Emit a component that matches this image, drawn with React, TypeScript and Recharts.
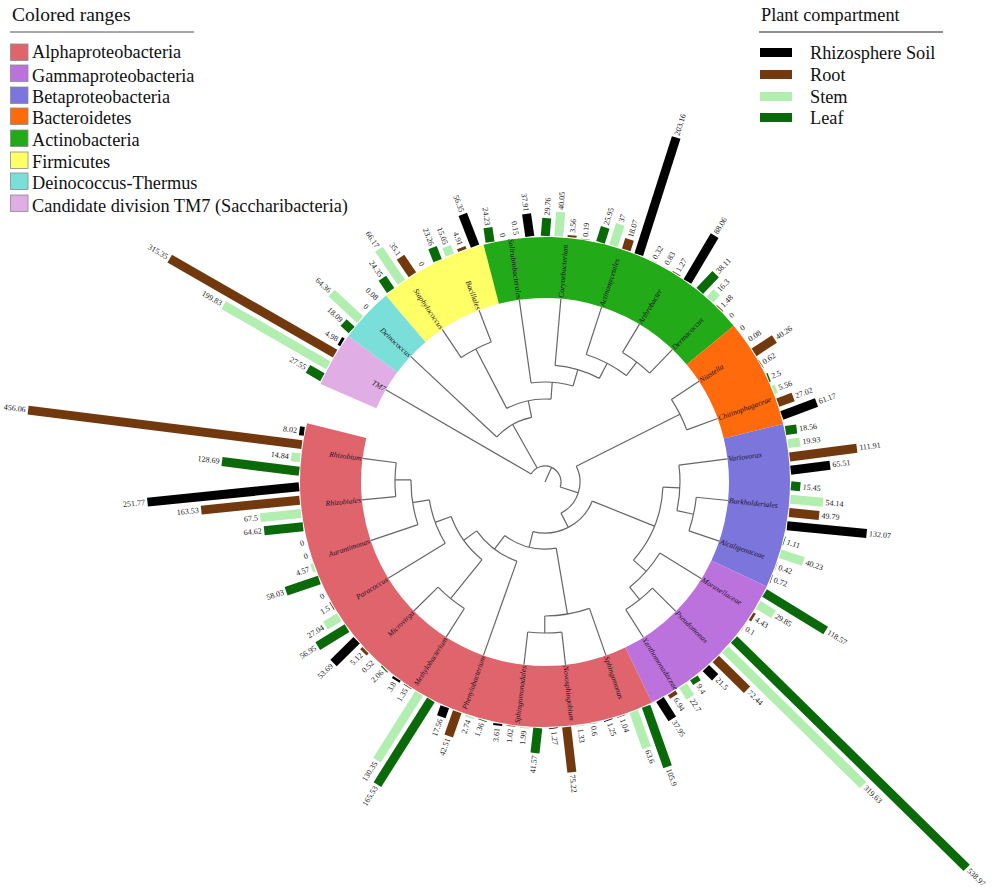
import React from 'react';
import {
  PieChart, Pie, RadialBarChart, RadialBar, PolarAngleAxis, PolarRadiusAxis,
  ScatterChart, Scatter, XAxis, YAxis,
} from 'recharts';

const W = 993;
const H = 887;
const CX = 545;
const CY = 482;
const START = 156.4;
const SLOTS_PER_GENUS = 4;
const GAP_SLOTS = 3;
const SERIF = '"Liberation Serif", serif';

const genera = ['TM7', 'Deinococcus', 'Staphylococcus', 'Bacillales', 'Solirubrobacterales', 'Corynebacterium', 'Actinomycetales', 'Arthrobacter', 'Dermacoccus', 'Niastella', 'Chitinophagaceae', 'Variovorax', 'Burkholderiales', 'Alcaligenaceae', 'Moraxellaceae', 'Pseudomonas', 'Xanthomonadaceae', 'Sphingomonas', 'Novosphingobium', 'Sphingomonadales', 'Phenylobacterium', 'Methylobacterium', 'Microvirga', 'Paracoccus', 'Aurantimonas', 'Rhizobiales', 'Rhizobium'];
const leafValues = [27.55, 18.09, 24.35, 23.26, 24.23, 29.76, 25.95, 0.32, 38.11, 0, 2.5, 18.56, 15.45, 1.11, 118.57, 538.97, 9.4, 105.9, 0.6, 41.57, 1.36, 165.53, 2.06, 56.95, 58.03, 64.62, 128.69];
const stemValues = [199.83, 64.36, 66.17, 15.05, 0, 40.05, 37, 0.83, 16.3, 0.08, 5.56, 19.93, 54.14, 40.23, 29.85, 319.63, 22.7, 63.6, 1.33, 1.99, 2.74, 130.35, 0.52, 27.04, 4.57, 67.5, 14.84];
const rootValues = [315.35, 0, 35.1, 4.91, 0.15, 3.56, 18.07, 1.27, 1.48, 40.26, 27.02, 111.91, 49.79, 0.42, 4.43, 72.44, 6.94, 1.04, 75.22, 1.02, 42.51, 1.35, 5.12, 1.5, 0, 163.53, 456.06];
const soilValues = [4.98, 0.08, 0, 56.35, 37.91, 0.19, 203.16, 88.06, 0, 0.62, 61.17, 65.51, 132.07, 0.72, 0.1, 21.5, 37.95, 1.25, 1.27, 3.61, 17.56, 3.8, 53.69, 0, 0, 251.77, 8.02];

// clades clockwise from TM7, with how many genera each holds
const cladeNames = ['Candidate division TM7 (Saccharibacteria)', 'Deinococcus-Thermus', 'Firmicutes', 'Actinobacteria', 'Bacteroidetes', 'Betaproteobacteria', 'Gammaproteobacteria', 'Alphaproteobacteria'];
const cladeCounts = [1, 1, 2, 5, 2, 3, 3, 10];
const cladeColors = ['#e0aee4', '#79dfd8', '#ffff66', '#22aa19', '#ff6a0d', '#7b75dc', '#bc72dd', '#e0646c'];

const legendOrder = [7, 6, 5, 4, 3, 2, 1, 0];
const compartmentNames = ['Rhizosphere Soil', 'Root', 'Stem', 'Leaf'];
const compartmentColors = ['#000000', '#72390f', '#b2eeb0', '#0a6a0a'];

// tree: [branch depth, children]; a number child is a genus index, a leaf of the tree
type T = [number, (T | number)[]];
const tree: T = [16, [
  0,
  [66, [1,
    [83, [
      [150, [2, 3]],
      [100, [4, [117, [5, [134, [6, [151, [7, 8]]]]]]]],
    ]],
  ]],
  [35, [
    [151, [9, 10]],
    [51, [
      [118, [
        [135, [11, [152, [12, 13]]]],
        [135, [14, [151, [15, 16]]]],
      ]],
      [67, [
        [134, [17, [151, [18, 19]]]],
        [84, [20, [100, [
          [150, [21, 22]],
          [117, [23, [134, [24, [150, [25, 26]]]]]],
        ]]]],
      ]],
    ]],
  ]],
]];

const RING_IN = 184;
const RING_OUT = 245;
const BAR_WIDTH = 9;
const BAR_PITCH = 13.4;
const totalSlots = genera.length * SLOTS_PER_GENUS + GAP_SLOTS;
const slotSpan = 360 / totalSlots;
const genusSpan = slotSpan * SLOTS_PER_GENUS;
function rad(a: number) { return (a * Math.PI) / 180; }
const polar = (r: number, a: number) => [CX + r * Math.cos(rad(a)), CY - r * Math.sin(rad(a))];

const slotRows: any[] = [];
genera.forEach((g, i) => {
  slotRows.push({ slot: `${g}-leaf`, k: 0, value: leafValues[i], color: compartmentColors[3] });
  slotRows.push({ slot: `${g}-stem`, k: 1, value: stemValues[i], color: compartmentColors[2] });
  slotRows.push({ slot: `${g}-root`, k: 2, value: rootValues[i], color: compartmentColors[1] });
  slotRows.push({ slot: `${g}-soil`, k: 3, value: soilValues[i], color: compartmentColors[0] });
});
for (let i = 0; i < GAP_SLOTS; i++) slotRows.push({ slot: `gap-${i}`, k: 0, value: 0, color: 'none', gap: true });

const ringRows = cladeNames.map((name, i) => ({ name, slots: cladeCounts[i] * SLOTS_PER_GENUS, fill: cladeColors[i] }));
ringRows.push({ name: 'gap', slots: GAP_SLOTS, fill: 'none' });
const genusRows = genera.map((name) => ({ name, slots: SLOTS_PER_GENUS, fill: 'none' }));
genusRows.push({ name: '', slots: GAP_SLOTS, fill: 'none' });

// flatten tree into branches
const branches: any[] = [];
const walk = (n: T | number, parentDepth: number): number => {
  if (typeof n === 'number') {
    const a = START - (n + 0.5) * genusSpan;
    branches.push({ depth: RING_IN, parentDepth, angle: a, a0: a, a1: a });
    return a;
  }
  const angles = n[1].map((c) => walk(c, n[0]));
  const a0 = angles[0];
  const a1 = angles[angles.length - 1];
  const a = (a0 + a1) / 2;
  branches.push({ depth: n[0], parentDepth, angle: a, a0, a1 });
  return a;
};
walk(tree, 0);
const treeRows = branches.map((b) => {
  const [x, y] = polar(b.depth, b.angle);
  return { ...b, x, y };
});

const BranchShape = (p: any) => {
  const b = p.payload;
  const [sx, sy] = polar(b.parentDepth, b.angle);
  let d = `M${sx},${sy}L${p.cx},${p.cy}`;
  if (b.a0 !== b.a1) {
    const [ax, ay] = polar(b.depth, b.a0);
    const [ex, ey] = polar(b.depth, b.a1);
    const large = Math.abs(b.a0 - b.a1) > 180 ? 1 : 0;
    d += `M${ax},${ay}A${b.depth},${b.depth} 0 ${large} 1 ${ex},${ey}`;
  }
  return <path d={d} fill="none" stroke="#666" strokeWidth={1.2} />;
};

const textProps = (x: number, y: number, a: number) => {
  const norm = ((a % 360) + 360) % 360;
  const right = norm <= 90 || norm >= 270;
  const rot = right ? -a : 180 - a;
  return {
    x, y, transform: `rotate(${rot} ${x} ${y})`, textAnchor: (right ? 'start' : 'end') as any,
    dominantBaseline: 'central' as any, fontFamily: SERIF,
  };
};

const BarShape = (p: any) => {
  const row = p.payload;
  if (row.gap) return null;
  // the library's sector runs counter-clockwise from the slot's clockwise-walking band: its centre is one slot ahead
  const mid = (p.startAngle + p.endAngle) / 2 - slotSpan;
  // bars of one genus are parallel to the genus' radius, side by side
  const genusAngle = mid - (1.5 - row.k) * slotSpan;
  const off = (1.5 - row.k) * BAR_PITCH;
  const ux = Math.cos(rad(genusAngle));
  const uy = -Math.sin(rad(genusAngle));
  // tangent, pointing counter-clockwise
  const vx = -Math.sin(rad(genusAngle));
  const vy = -Math.cos(rad(genusAngle));
  const base = Math.sqrt(Math.max(p.innerRadius * p.innerRadius - off * off, 0));
  const len = p.outerRadius - p.innerRadius;
  const at = (s: number, t: number) => [CX + ux * s + vx * t, CY + uy * s + vy * t];
  const hw = BAR_WIDTH / 2;
  const corners = [at(base, off - hw), at(base, off + hw), at(base + len, off + hw), at(base + len, off - hw)];
  const [lx, ly] = at(base + len + 2.5, off);
  return (
    <g>
      {row.value > 0 && <polygon points={corners.map((c) => c.join(',')).join(' ')} fill={row.color} />}
      <text {...textProps(lx, ly, genusAngle)} fontSize={8} fill="#222">{String(row.value)}</text>
    </g>
  );
};

const genusLabel = (p: any) => {
  const name = p.name || (p.payload && p.payload.name);
  if (!name) return null;
  const [x, y] = polar(RING_IN + 1, p.midAngle);
  return <text key={name} {...textProps(x, y, p.midAngle)} fontSize={7.6} fontStyle="italic" fill="#1d1226">{name}</text>;
};

const layer: React.CSSProperties = { position: 'absolute', left: 0, top: 0 };
const noMargin = { top: 0, right: 0, bottom: 0, left: 0 };

const swatchTops = [44, 65, 87, 108, 130, 152, 173, 195];
const cladeBaselines = [58, 82, 103, 124, 146, 168, 189, 212];
const compartmentTops = [48, 70, 92, 113];
const compartmentBaselines = [59, 81, 103, 124];

export default function App() {
  return (
    <div style={{ position: 'absolute', left: 0, top: 0, width: W, height: H, background: '#fff', overflow: 'hidden' }}>
      <div style={layer}>
        <ScatterChart width={W} height={H} margin={noMargin}>
          <XAxis type="number" dataKey="x" domain={[0, W]} hide />
          <YAxis type="number" dataKey="y" domain={[0, H]} reversed hide />
          <Scatter data={treeRows} shape={BranchShape} isAnimationActive={false} />
        </ScatterChart>
      </div>
      <div style={layer}>
        <PieChart width={W} height={H} margin={noMargin}>
          <Pie data={ringRows} dataKey="slots" nameKey="name" cx={CX} cy={CY} innerRadius={RING_IN} outerRadius={RING_OUT}
            startAngle={START} endAngle={START - 360} stroke="none" isAnimationActive={false} />
          <Pie data={genusRows} dataKey="slots" nameKey="name" cx={CX} cy={CY} innerRadius={RING_IN} outerRadius={RING_OUT}
            startAngle={START} endAngle={START - 360} stroke="none" label={genusLabel} labelLine={false} isAnimationActive={false} />
        </PieChart>
      </div>
      <div style={layer}>
        <RadialBarChart width={W} height={H} margin={noMargin} data={slotRows} layout="centric" cx={CX} cy={CY}
          innerRadius={RING_OUT + 1} outerRadius={RING_OUT + 1 + 363} startAngle={START} endAngle={START - 360}>
          <PolarAngleAxis type="category" dataKey="slot" tick={false} axisLine={false} tickLine={false} />
          <PolarRadiusAxis type="number" domain={[0, 600]} tick={false} axisLine={false} />
          <RadialBar dataKey="value" shape={BarShape} isAnimationActive={false} />
        </RadialBarChart>
      </div>
      <svg width={W} height={H} style={{ ...layer, pointerEvents: 'none' }} fontFamily={SERIF} fill="#111">
        <text x={12} y={21} fontSize={19.5}>Colored ranges</text>
        <line x1={10} x2={194} y1={32} y2={32} stroke="#555" strokeWidth={1} />
        {legendOrder.map((c, i) => (
          <g key={c}>
            <rect x={10.5} y={swatchTops[i]} width={17.5} height={16.5} fill={cladeColors[c]} stroke="#8a8a8a" strokeWidth={0.8} />
            <text x={32} y={cladeBaselines[i]} fontSize={18.3}>{cladeNames[c]}</text>
          </g>
        ))}
        <text x={761} y={21} fontSize={18.3}>Plant compartment</text>
        <line x1={759} x2={943} y1={32} y2={32} stroke="#222" strokeWidth={1} />
        {compartmentNames.map((n, i) => (
          <g key={n}>
            <rect x={760} y={compartmentTops[i]} width={32} height={9} fill={compartmentColors[i]} />
            <text x={810} y={compartmentBaselines[i]} fontSize={18.3}>{n}</text>
          </g>
        ))}
      </svg>
    </div>
  );
}
